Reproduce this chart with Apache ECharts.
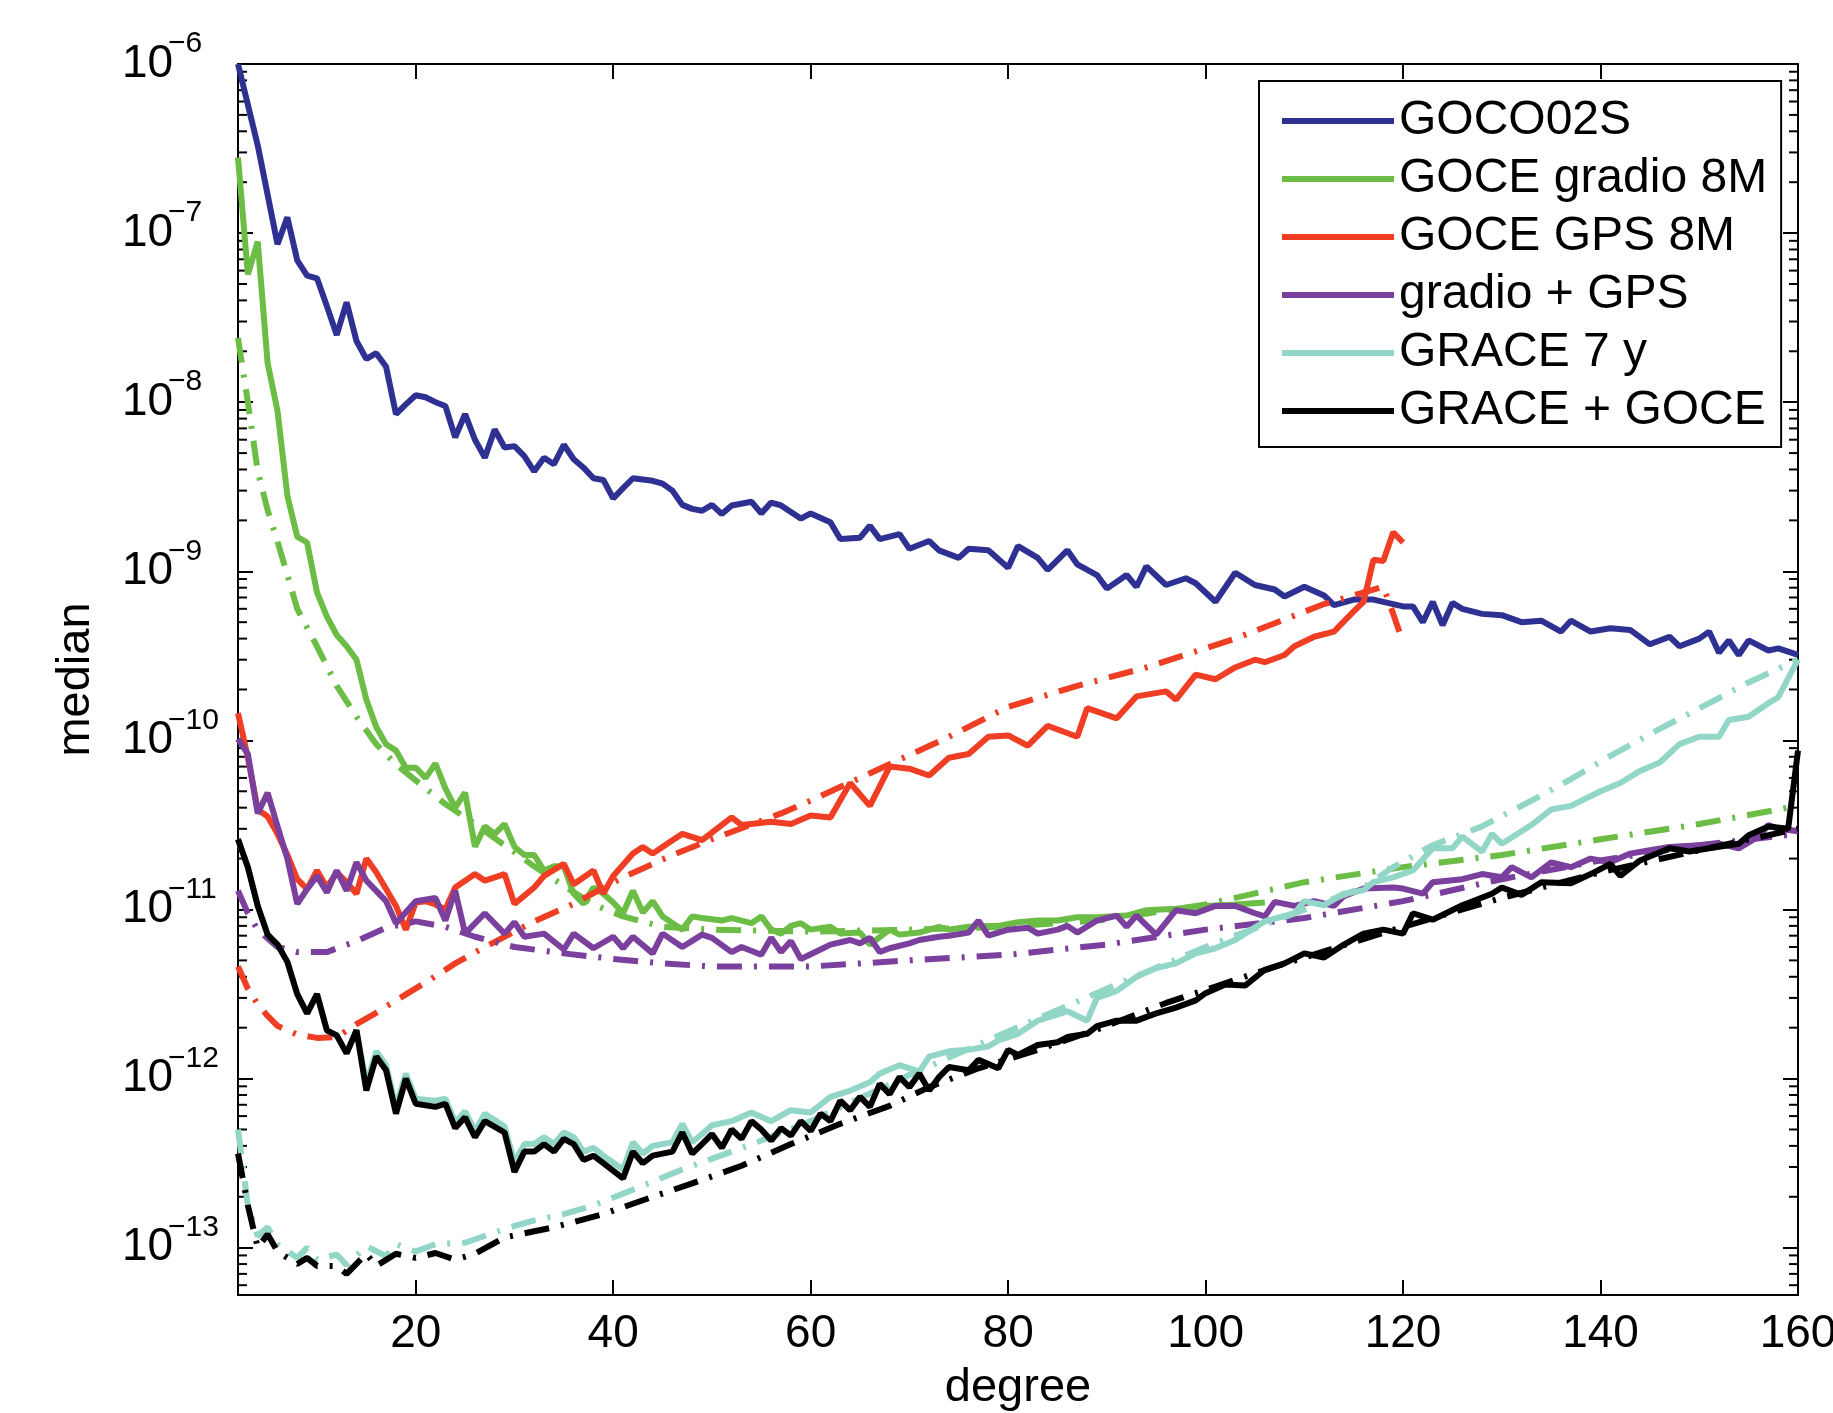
<!DOCTYPE html>
<html>
<head>
<meta charset="utf-8">
<script src="https://cdn.jsdelivr.net/npm/echarts@6.0.0/dist/echarts.min.js"></script>
<style>
  html, body { margin: 0; padding: 0; background: #fff; }
  #main { width: 1833px; height: 1413px; }
</style>
</head>
<body>
<div id="main"></div>
<script>
// axis ranges and tick labels
var xMin = 2, xMax = 160;
var yMin = 5.25e-14, yMax = 1e-6;
var degTicks = [20, 40, 60, 80, 100, 120, 140, 160];

// [degree, median]
var goco02s = [[2,1.0e-6],[4,3.3e-7],[6,8.6e-8],[7,1.24e-7],[8,6.9e-8],[9,5.6e-8],[10,5.4e-8],[11,3.7e-8],[12,2.5e-8],[13,3.9e-8],[14,2.3e-8],[15,1.8e-8],[16,1.95e-8],[17,1.62e-8],[18,8.5e-9],[19,9.7e-9],[20,1.1e-8],[21,1.07e-8],[22,1.0e-8],[23,9.5e-9],[24,6.2e-9],[25,8.5e-9],[26,6.0e-9],[27,4.7e-9],[28,6.9e-9],[29,5.4e-9],[30,5.5e-9],[31,4.8e-9],[32,3.9e-9],[33,4.7e-9],[34,4.3e-9],[35,5.6e-9],[36,4.6e-9],[37,4.1e-9],[38,3.55e-9],[39,3.47e-9],[40,2.7e-9],[41,3.1e-9],[42,3.55e-9],[44,3.43e-9],[45,3.3e-9],[46,3.0e-9],[47,2.47e-9],[48,2.34e-9],[49,2.28e-9],[50,2.47e-9],[51,2.18e-9],[52,2.45e-9],[54,2.58e-9],[55,2.2e-9],[56,2.55e-9],[57,2.45e-9],[59,2.05e-9],[60,2.2e-9],[62,1.95e-9],[63,1.55e-9],[65,1.58e-9],[66,1.86e-9],[67,1.55e-9],[69,1.66e-9],[70,1.36e-9],[72,1.51e-9],[73,1.33e-9],[75,1.2e-9],[76,1.36e-9],[78,1.33e-9],[80,1.05e-9],[81,1.41e-9],[83,1.2e-9],[84,1.02e-9],[86,1.33e-9],[87,1.1e-9],[89,9.5e-10],[90,7.9e-10],[92,9.5e-10],[93,8.1e-10],[94,1.07e-9],[96,8.3e-10],[98,9.1e-10],[99,8.5e-10],[101,6.6e-10],[103,9.8e-10],[105,8.3e-10],[107,7.8e-10],[108,7.1e-10],[110,8.1e-10],[112,7.2e-10],[113,6.3e-10],[115,6.8e-10],[117,6.8e-10],[120,6.2e-10],[121,6.2e-10],[122,5.0e-10],[123,6.6e-10],[124,4.8e-10],[125,6.5e-10],[126,6.0e-10],[128,5.6e-10],[130,5.5e-10],[132,5.0e-10],[134,5.1e-10],[136,4.4e-10],[137,5.1e-10],[139,4.4e-10],[141,4.6e-10],[143,4.5e-10],[145,3.7e-10],[147,4.1e-10],[148,3.6e-10],[150,4.0e-10],[151,4.4e-10],[152,3.3e-10],[153,3.9e-10],[154,3.2e-10],[155,3.9e-10],[157,3.4e-10],[158,3.5e-10],[160,3.2e-10]];

var gradio8m = [[2,2.8e-7],[3,5.7e-8],[4,8.9e-8],[5,1.7e-8],[6,8.9e-9],[7,2.8e-9],[8,1.6e-9],[9,1.48e-9],[10,7.5e-10],[11,5.4e-10],[12,4.2e-10],[13,3.6e-10],[14,3.0e-10],[15,1.74e-10],[16,1.2e-10],[17,9.5e-11],[18,8.7e-11],[19,6.9e-11],[20,6.9e-11],[21,6.0e-11],[22,7.3e-11],[23,5.2e-11],[24,4.0e-11],[25,4.9e-11],[26,2.35e-11],[27,3.1e-11],[28,2.8e-11],[29,3.2e-11],[30,2.35e-11],[31,2.1e-11],[32,2.1e-11],[33,1.7e-11],[34,1.8e-11],[35,1.8e-11],[36,1.24e-11],[37,1.08e-11],[38,1.35e-11],[39,1.24e-11],[40,1.1e-11],[41,9.5e-12],[42,1.29e-11],[43,9.6e-12],[44,1.12e-11],[45,9.1e-12],[47,7.6e-12],[48,9.1e-12],[49,8.9e-12],[51,8.6e-12],[52,8.9e-12],[54,8.3e-12],[55,9.1e-12],[56,7.6e-12],[57,7.2e-12],[58,8.0e-12],[59,8.3e-12],[60,7.6e-12],[62,7.9e-12],[63,7.2e-12],[65,7.3e-12],[66,6.2e-12],[68,7.6e-12],[69,7.1e-12],[71,7.3e-12],[73,7.9e-12],[74,7.6e-12],[76,7.9e-12],[79,8.0e-12],[81,8.4e-12],[83,8.6e-12],[85,8.6e-12],[87,9.0e-12],[89,9.0e-12],[92,9.2e-12],[94,9.9e-12],[97,1.01e-11],[100,1.05e-11],[103,1.07e-11],[106,1.1e-11]];
var gradio8mB = [[2,2.4e-8],[3,1.0e-8],[4,3.9e-9],[5,2.3e-9],[6,1.5e-9],[7,9.5e-10],[8,6.0e-10],[10,3.6e-10],[12,2.1e-10],[14,1.38e-10],[16,9.5e-11],[18,7.2e-11],[20,5.8e-11],[23,4.2e-11],[26,3.2e-11],[29,2.4e-11],[32,1.8e-11],[35,1.38e-11],[38,1.07e-11],[41,9.1e-12],[45,7.9e-12],[50,7.6e-12],[60,7.4e-12],[70,7.6e-12],[80,7.9e-12],[90,8.7e-12],[100,1.07e-11],[110,1.45e-11],[120,1.78e-11],[130,2.1e-11],[140,2.6e-11],[150,3.2e-11],[160,4.1e-11]];

var gps8m = [[2,1.45e-10],[3,7.9e-11],[4,3.9e-11],[5,3.55e-11],[6,2.8e-11],[7,2.1e-11],[8,1.51e-11],[9,1.32e-11],[10,1.7e-11],[11,1.35e-11],[12,1.66e-11],[13,1.45e-11],[14,1.24e-11],[15,2.0e-11],[16,1.66e-11],[17,1.32e-11],[18,1.05e-11],[19,7.6e-12],[20,1.1e-11],[21,1.12e-11],[22,1.07e-11],[23,1.0e-11],[24,1.35e-11],[26,1.62e-11],[27,1.48e-11],[29,1.62e-11],[30,1.08e-11],[32,1.35e-11],[33,1.58e-11],[35,1.86e-11],[36,1.41e-11],[38,1.7e-11],[39,1.24e-11],[40,1.58e-11],[42,2.14e-11],[43,2.34e-11],[44,2.14e-11],[46,2.57e-11],[47,2.8e-11],[49,2.57e-11],[52,3.5e-11],[53,3.16e-11],[56,3.3e-11],[58,3.2e-11],[60,3.6e-11],[62,3.5e-11],[64,5.6e-11],[66,4.1e-11],[68,7.0e-11],[70,6.8e-11],[72,6.2e-11],[74,7.9e-11],[76,8.3e-11],[78,1.05e-10],[80,1.07e-10],[82,9.3e-11],[84,1.22e-10],[87,1.05e-10],[88,1.55e-10],[91,1.35e-10],[93,1.82e-10],[96,1.95e-10],[97,1.74e-10],[99,2.45e-10],[101,2.3e-10],[103,2.7e-10],[105,3.0e-10],[106,2.9e-10],[108,3.2e-10],[109,3.6e-10],[111,4.1e-10],[113,4.4e-10],[115,5.8e-10],[116,6.6e-10],[117,1.17e-9],[118,1.15e-9],[119,1.7e-9],[120,1.48e-9]];
var gps8mB = [[2,4.6e-12],[3,3.4e-12],[4,2.75e-12],[5,2.35e-12],[6,2.05e-12],[8,1.82e-12],[10,1.74e-12],[12,1.76e-12],[14,2.1e-12],[16,2.45e-12],[18,2.9e-12],[21,3.7e-12],[24,4.8e-12],[27,6.0e-12],[32,8.5e-12],[36,1.08e-11],[41,1.55e-11],[46,2.1e-11],[50,2.6e-11],[57,3.7e-11],[60,4.4e-11],[67,6.8e-11],[74,1.05e-10],[80,1.58e-10],[87,2.1e-10],[94,2.7e-10],[103,4.0e-10],[112,6.4e-10],[118,8.1e-10],[119,5.6e-10],[120,3.8e-10]];

var gradioGps = [[2,1.02e-10],[3,8.3e-11],[4,3.7e-11],[5,4.9e-11],[6,3.1e-11],[7,2.0e-11],[8,1.08e-11],[9,1.32e-11],[10,1.58e-11],[11,1.26e-11],[12,1.7e-11],[13,1.29e-11],[14,1.9e-11],[15,1.48e-11],[17,1.12e-11],[18,8.3e-12],[20,1.12e-11],[22,1.17e-11],[23,8.6e-12],[24,1.29e-11],[25,7.2e-12],[27,9.5e-12],[29,7.2e-12],[30,8.4e-12],[31,6.9e-12],[33,7.2e-12],[35,5.8e-12],[36,7.2e-12],[38,5.9e-12],[40,6.9e-12],[41,5.9e-12],[42,6.9e-12],[44,5.5e-12],[45,7.2e-12],[47,6.0e-12],[49,7.1e-12],[50,6.8e-12],[52,5.6e-12],[53,6.0e-12],[55,5.4e-12],[56,6.8e-12],[57,5.6e-12],[58,6.5e-12],[59,5.1e-12],[61,5.8e-12],[62,6.2e-12],[64,6.6e-12],[65,6.3e-12],[66,6.8e-12],[67,5.6e-12],[68,5.9e-12],[70,6.3e-12],[71,6.6e-12],[73,6.9e-12],[74,7.0e-12],[76,7.3e-12],[77,8.6e-12],[78,7.0e-12],[80,7.6e-12],[82,7.8e-12],[83,7.2e-12],[85,7.6e-12],[86,8.0e-12],[87,7.3e-12],[89,8.6e-12],[91,9.2e-12],[92,7.9e-12],[93,9.2e-12],[95,7.1e-12],[97,9.9e-12],[99,9.5e-12],[101,1.05e-11],[103,1.05e-11],[105,9.5e-12],[106,9.1e-12],[107,1.11e-11],[109,1.05e-11],[111,1.12e-11],[113,1.05e-11],[114,1.2e-11],[116,1.33e-11],[119,1.35e-11],[120,1.33e-11],[122,1.24e-11],[123,1.45e-11],[126,1.51e-11],[128,1.62e-11],[130,1.55e-11],[131,1.78e-11],[133,1.55e-11],[135,1.9e-11],[137,1.78e-11],[139,2.0e-11],[141,1.9e-11],[143,2.14e-11],[145,2.24e-11],[147,2.34e-11],[150,2.4e-11],[152,2.45e-11],[154,2.3e-11],[156,2.7e-11],[157,3.16e-11],[158,3.0e-11],[160,2.9e-11]];
var gradioGpsB = [[2,1.29e-11],[3,9.5e-12],[4,7.6e-12],[6,6.0e-12],[8,5.6e-12],[11,5.6e-12],[14,6.5e-12],[17,7.8e-12],[20,8.5e-12],[23,7.9e-12],[26,6.9e-12],[30,6.0e-12],[35,5.5e-12],[40,5.1e-12],[45,4.8e-12],[50,4.6e-12],[60,4.6e-12],[70,5.0e-12],[80,5.4e-12],[90,6.2e-12],[100,7.6e-12],[110,8.9e-12],[120,1.12e-11],[130,1.51e-11],[140,1.95e-11],[150,2.4e-11],[160,2.8e-11]];

var grace7y = [[2,2.6e-11],[3,1.78e-11],[4,1.05e-11],[5,7.1e-12],[6,6.2e-12],[7,4.9e-12],[8,3.16e-12],[9,2.43e-12],[10,3.16e-12],[11,1.93e-12],[12,1.8e-12],[13,1.41e-12],[14,1.93e-12],[15,9.3e-13],[16,1.45e-12],[17,1.2e-12],[18,6.8e-13],[19,1.07e-12],[20,7.6e-13],[22,7.4e-13],[23,7.6e-13],[24,5.5e-13],[25,6.4e-13],[26,4.9e-13],[27,6.2e-13],[29,5.2e-13],[30,3.2e-13],[31,4.1e-13],[32,4.1e-13],[33,4.5e-13],[34,4.1e-13],[35,4.8e-13],[36,4.5e-13],[37,3.7e-13],[38,3.9e-13],[39,3.5e-13],[41,2.9e-13],[42,4.2e-13],[43,3.6e-13],[44,4.0e-13],[46,4.2e-13],[47,5.4e-13],[48,4.2e-13],[49,4.7e-13],[50,5.3e-13],[52,5.6e-13],[54,6.3e-13],[56,5.6e-13],[58,6.5e-13],[60,6.3e-13],[62,7.8e-13],[64,8.5e-13],[66,9.5e-13],[67,1.07e-12],[69,1.2e-12],[71,1.1e-12],[72,1.35e-12],[74,1.45e-12],[76,1.48e-12],[78,1.55e-12],[79,1.68e-12],[81,1.84e-12],[83,2.2e-12],[86,2.5e-12],[88,2.2e-12],[89,3.0e-12],[91,3.3e-12],[93,4.0e-12],[95,4.5e-12],[97,4.8e-12],[99,5.5e-12],[101,5.9e-12],[103,6.6e-12],[104,7.2e-12],[106,8.5e-12],[109,9.5e-12],[110,1.12e-11],[112,1.06e-11],[114,1.24e-11],[116,1.3e-11],[117,1.45e-11],[119,1.55e-11],[121,1.7e-11],[123,2.3e-11],[125,2.3e-11],[126,2.7e-11],[128,2.2e-11],[129,2.8e-11],[130,2.45e-11],[133,3.16e-11],[135,3.9e-11],[137,4.1e-11],[140,5.0e-11],[142,5.6e-11],[144,6.6e-11],[146,7.4e-11],[148,9.5e-11],[150,1.05e-10],[152,1.05e-10],[153,1.32e-10],[155,1.38e-10],[157,1.66e-10],[158,1.8e-10],[160,3.0e-10]];
var grace7yB = [[2,5.0e-13],[3,1.78e-13],[4,1.17e-13],[5,1.32e-13],[6,1.05e-13],[8,8.7e-14],[9,1.0e-13],[10,8.5e-14],[12,9.1e-14],[13,7.9e-14],[15,1.02e-13],[17,8.9e-14],[18,1.05e-13],[20,9.5e-14],[22,1.05e-13],[25,1.07e-13],[29,1.29e-13],[32,1.45e-13],[35,1.58e-13],[38,1.78e-13],[42,2.2e-13],[47,2.9e-13],[52,3.7e-13],[55,4.3e-13],[60,5.6e-13],[70,1.05e-12],[80,1.9e-12],[90,3.4e-12],[100,6.0e-12],[111,1.05e-11],[116,1.35e-11],[119,1.78e-11],[123,2.4e-11],[128,3.1e-11],[133,4.4e-11],[137,5.9e-11],[141,8.1e-11],[146,1.17e-10],[151,1.66e-10],[155,2.2e-10],[160,3.0e-10]];

var graceGoce = [[2,2.6e-11],[3,1.78e-11],[4,1.05e-11],[5,7.1e-12],[6,6.2e-12],[7,4.9e-12],[8,3.16e-12],[9,2.43e-12],[10,3.16e-12],[11,1.93e-12],[12,1.8e-12],[13,1.41e-12],[14,1.93e-12],[15,8.5e-13],[16,1.35e-12],[17,1.12e-12],[18,6.2e-13],[19,1.0e-12],[20,7.1e-13],[22,6.8e-13],[23,7.1e-13],[24,5.1e-13],[25,5.9e-13],[26,4.5e-13],[27,5.6e-13],[29,4.8e-13],[30,2.8e-13],[31,3.7e-13],[32,3.7e-13],[33,4.1e-13],[34,3.7e-13],[35,4.4e-13],[36,4.1e-13],[37,3.3e-13],[38,3.5e-13],[39,3.16e-13],[41,2.57e-13],[42,3.7e-13],[43,3.16e-13],[44,3.5e-13],[46,3.7e-13],[47,4.8e-13],[48,3.6e-13],[49,4.1e-13],[50,4.7e-13],[51,3.9e-13],[52,5.0e-13],[53,4.4e-13],[54,5.6e-13],[55,5.0e-13],[56,4.3e-13],[57,5.1e-13],[58,4.6e-13],[59,5.6e-13],[60,4.9e-13],[61,6.2e-13],[62,5.6e-13],[63,7.4e-13],[64,6.5e-13],[65,7.8e-13],[66,6.8e-13],[67,9.3e-13],[68,8.1e-13],[69,1.02e-12],[70,8.9e-13],[71,1.07e-12],[72,8.5e-13],[73,1.02e-12],[74,1.17e-12],[76,1.12e-12],[77,1.29e-12],[79,1.15e-12],[80,1.48e-12],[81,1.38e-12],[83,1.58e-12],[85,1.64e-12],[86,1.76e-12],[88,1.84e-12],[89,2.04e-12],[91,2.2e-12],[93,2.2e-12],[95,2.43e-12],[97,2.63e-12],[99,2.9e-12],[100,3.2e-12],[102,3.6e-12],[104,3.55e-12],[106,4.4e-12],[108,4.8e-12],[110,5.5e-12],[112,5.2e-12],[114,6.2e-12],[116,7.2e-12],[118,7.6e-12],[120,7.2e-12],[121,9.5e-12],[123,8.7e-12],[126,1.06e-11],[129,1.24e-11],[130,1.35e-11],[132,1.22e-11],[134,1.45e-11],[137,1.43e-11],[139,1.62e-11],[141,1.86e-11],[142,1.58e-11],[144,1.95e-11],[147,2.3e-11],[149,2.2e-11],[151,2.3e-11],[154,2.45e-11],[155,2.75e-11],[157,3.1e-11],[159,3.0e-11],[160,8.7e-11]];
var graceGoceB = [[2,3.6e-13],[3,1.78e-13],[4,1.0e-13],[5,1.2e-13],[6,9.5e-14],[8,8.0e-14],[9,8.7e-14],[10,7.8e-14],[12,7.8e-14],[13,7.0e-14],[15,9.2e-14],[16,7.8e-14],[18,9.2e-14],[20,8.7e-14],[22,9.3e-14],[24,8.5e-14],[26,9.2e-14],[29,1.15e-13],[34,1.32e-13],[39,1.58e-13],[44,2.0e-13],[48,2.4e-13],[53,3.05e-13],[58,4.1e-13],[63,5.4e-13],[68,6.9e-13],[72,8.9e-13],[77,1.15e-12],[83,1.48e-12],[89,1.95e-12],[96,2.8e-12],[101,3.5e-12],[105,4.2e-12],[110,5.2e-12],[120,7.9e-12],[130,1.17e-11],[140,1.66e-11],[150,2.24e-11],[160,3.0e-11]];

var names = ['GOCO02S', 'GOCE gradio 8M', 'GOCE GPS 8M', 'gradio + GPS', 'GRACE 7 y', 'GRACE + GOCE'];
var colors = ['#2e3192', '#6cbd45', '#ef3e23', '#7b3f9d', '#91d6c6', '#000000'];

var FONT = '"Liberation Sans", Arial, Helvetica, sans-serif';
var dashDot = [25, 12, 3, 12];

function line(name, data, color, dashed) {
  return {
    name: name,
    type: 'line',
    data: data,
    symbol: 'none',
    silent: true,
    lineStyle: { color: color, width: 6, type: dashed ? dashDot : 'solid', cap: 'butt' },
    itemStyle: { color: color },
    emphasis: { disabled: true }
  };
}

// log minor ticks (2..9 x 10^n) drawn on left and right frame
var minorTicks = [];
for (var e = -14; e <= -7; e++) {
  for (var m = 2; m <= 9; m++) {
    var v = m * Math.pow(10, e);
    if (v > yMin && v < yMax) minorTicks.push([xMin, v]);
  }
}

var chart = echarts.init(document.getElementById('main'));

function expLabel(val) {
  var lg = Math.log10(val);
  var e = Math.round(lg);
  if (Math.abs(lg - e) > 1e-6) return '';
  return '{b|10}{s|\u2212' + (-e) + '}';
}

var yBase = {
  type: 'log',
  logBase: 10,
  min: yMin,
  max: yMax,
  axisLine: { show: true, lineStyle: { color: '#000', width: 2 } },
  axisTick: { show: true, inside: true, length: 15, lineStyle: { color: '#000', width: 2 } },
  splitLine: { show: false }
};

var xBase = {
  type: 'value',
  min: xMin,
  max: xMax,
  axisLine: { show: true, lineStyle: { color: '#000', width: 2 } },
  axisTick: { show: true, inside: true, length: 15, customValues: degTicks, lineStyle: { color: '#000', width: 2 } },
  splitLine: { show: false }
};

var option = {
  animation: false,
  backgroundColor: '#fff',
  grid: { left: 238, right: 35, top: 64, bottom: 118, containLabel: false, outerBoundsMode: 'none' },
  legend: {
    data: names,
    orient: 'vertical',
    left: 1259,
    top: 81,
    padding: [16, 14, 12, 23],
    icon: 'rect',
    itemWidth: 112,
    itemHeight: 6,
    itemGap: 10,
    borderColor: '#000',
    borderWidth: 2,
    backgroundColor: '#fff',
    selectedMode: false,
    textStyle: { fontFamily: FONT, fontSize: 48, color: '#000' }
  },
  xAxis: [
    Object.assign({}, xBase, {
      position: 'bottom',
      name: 'degree',
      nameLocation: 'middle',
      nameGap: 70,
      nameMoveOverlap: false,
      nameTextStyle: { fontFamily: FONT, fontSize: 47, color: '#000' },
      axisLabel: { show: true, customValues: degTicks, margin: 16, fontFamily: FONT, fontSize: 46, color: '#000' }
    }),
    Object.assign({}, xBase, { position: 'top', axisLabel: { show: false } })
  ],
  yAxis: [
    Object.assign({}, yBase, {
      position: 'left',
      name: 'median',
      nameLocation: 'middle',
      nameGap: 138,
      nameMoveOverlap: false,
      nameTextStyle: { fontFamily: FONT, fontSize: 47, color: '#000' },
      axisLabel: {
        show: true,
        margin: 7,
        formatter: expLabel,
        rich: {
          b: { fontFamily: FONT, fontSize: 46, color: '#000', lineHeight: 70, width: 46, align: 'left' },
          s: { fontFamily: FONT, fontSize: 30, color: '#000', verticalAlign: 'top', width: 63, align: 'left' }
        }
      }
    }),
    Object.assign({}, yBase, { position: 'right', axisLabel: { show: false } })
  ],
  series: [
    line(names[0], goco02s, colors[0], false),
    line(names[1], gradio8m, colors[1], false),
    line(names[1] + ' (dash-dot)', gradio8mB, colors[1], true),
    line(names[2], gps8m, colors[2], false),
    line(names[2] + ' (dash-dot)', gps8mB, colors[2], true),
    line(names[3], gradioGps, colors[3], false),
    line(names[3] + ' (dash-dot)', gradioGpsB, colors[3], true),
    line(names[4], grace7y, colors[4], false),
    line(names[4] + ' (dash-dot)', grace7yB, colors[4], true),
    line(names[5], graceGoce, colors[5], false),
    line(names[5] + ' (dash-dot)', graceGoceB, colors[5], true),
    {
      name: 'minor ticks',
      type: 'custom',
      silent: true,
      data: minorTicks,
      encode: { x: 0, y: 1 },
      renderItem: function (params, api) {
        var pl = api.coord([xMin, api.value(1)]);
        var pr = api.coord([xMax, api.value(1)]);
        var st = { stroke: '#000', lineWidth: 2 };
        return {
          type: 'group',
          children: [
            { type: 'line', shape: { x1: pl[0], y1: pl[1], x2: pl[0] + 9, y2: pl[1] }, style: st },
            { type: 'line', shape: { x1: pr[0] - 9, y1: pr[1], x2: pr[0], y2: pr[1] }, style: st }
          ]
        };
      }
    }
  ]
};

chart.setOption(option);
</script>
</body>
</html>
